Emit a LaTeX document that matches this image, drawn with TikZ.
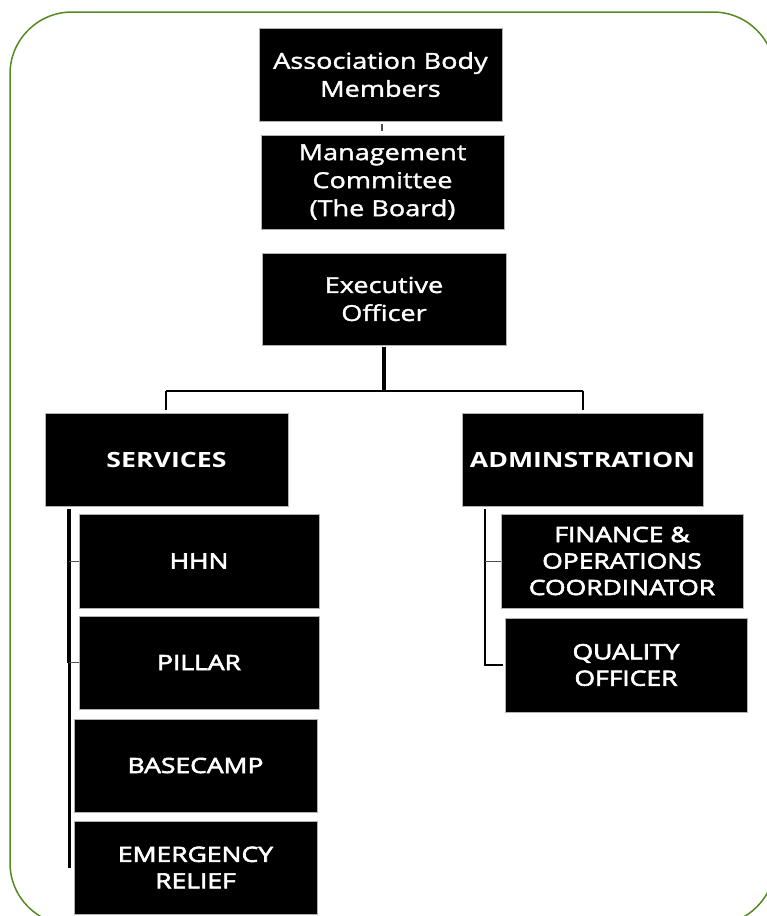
\documentclass[tikz,border=0pt]{standalone}
\usepackage{fontspec}
\setmainfont{Open Sans}
\newfontfamily\regf[FakeStretch=1.23,FakeBold=1.5]{Open Sans}
\newfontfamily\semif[FakeStretch=1.26,FakeBold=3]{Open Sans}
\newfontfamily\boldf[FakeStretch=1.27]{Open Sans Bold}
\definecolor{bordergreen}{RGB}{86,138,32}
\tikzset{
  orgbox/.style={rectangle, fill=black, draw=gray!60, line width=0.8pt, text=white,
    align=center, inner sep=0pt, outer sep=0pt},
  topfont/.style={font=\regf\fontsize{22}{28}\selectfont},
  capfont/.style={font=\semif\fontsize{21}{26.5}\selectfont},
  headfont/.style={font=\boldf\fontsize{21}{26}\selectfont},
  conn/.style={draw=black, line width=2pt},
  thickconn/.style={draw=black, line width=3.2pt},
  tick/.style={draw=black!70, line width=1pt}
}
\begin{document}
\begin{tikzpicture}[x=1pt,y=-1pt]
\useasboundingbox (0,0) rectangle (767,916);
\begin{scope}
\clip (0,0) rectangle (767,916);
\draw[bordergreen, line width=1.5pt, rounded corners=62pt] (10,12) rectangle (775,925);
\end{scope}

% top chain
\node[orgbox, topfont, minimum width=243pt, minimum height=93pt] (abm) at (380.5,74.5) {Association Body\\Members};
\node[orgbox, topfont, minimum width=243pt, minimum height=94pt] (mc) at (382.5,182) {Management\\Committee\\(The Board)};
\node[orgbox, topfont, minimum width=244pt, minimum height=92pt] (eo) at (384,299) {Executive\\Officer};

% branch heads
\node[orgbox, headfont, minimum width=243pt, minimum height=93pt] (srv) at (166.5,459.5) {SERVICES};
\node[orgbox, headfont, minimum width=241pt, minimum height=93pt] (adm) at (582.5,459.5) {ADMINSTRATION};

% services
\node[orgbox, capfont, minimum width=240pt, minimum height=94pt] (hhn) at (199,561) {HHN};
\node[orgbox, capfont, minimum width=240pt, minimum height=93pt] (pil) at (199,662.5) {PILLAR};
\node[orgbox, capfont, minimum width=243pt, minimum height=93pt] (bc) at (195.5,765.5) {BASECAMP};
\node[orgbox, capfont, minimum width=243pt, minimum height=93pt] (er) at (195.5,867.5) {EMERGENCY\\RELIEF};

% administration
\node[orgbox, capfont, minimum width=242pt, minimum height=94pt] (fin) at (622,561) {FINANCE \&\\OPERATIONS\\COORDINATOR};
\node[orgbox, capfont, minimum width=242pt, minimum height=94pt] (qo) at (626,665) {QUALITY\\OFFICER};

% connectors
\draw[tick, line width=1.3pt] ([xshift=1.5pt,yshift=-3pt]abm.south) -- ([xshift=-0.5pt,yshift=4pt]mc.north);

\coordinate (hub) at (384,391);
\coordinate (hl) at (166,391);
\coordinate (hr) at (583,391);
\draw[thickconn] ([yshift=-2pt]eo.south) -- (hub);
\draw[conn] (hl) -- (hr);
\draw[conn, line width=2.5pt] (hl) -- ([yshift=3pt]srv.north -| hl);
\draw[conn, line width=2.5pt] (hr) -- ([yshift=3pt]adm.north -| hr);

\coordinate (ls1) at (69,509);
\coordinate (ls2) at (69,663);
\coordinate (ls3) at (69.5,868);
\draw[draw=black, line width=4pt] (ls1) -- (ls2);
\draw[conn, line width=2.5pt] (ls2 -| ls3) -- (ls3);
\draw[tick] (ls1 |- hhn.west) -- (hhn.west);
\draw[tick] (ls1 |- pil.west) -- (pil.west);

\coordinate (rs1) at (485,509);
\coordinate (rs2) at (485,665);
\draw[conn, line width=2.4pt] (rs1) -- (rs2) -- ([xshift=-2pt]qo.west);
\draw[tick] (rs1 |- fin.west) -- (fin.west);
\end{tikzpicture}
\end{document}
